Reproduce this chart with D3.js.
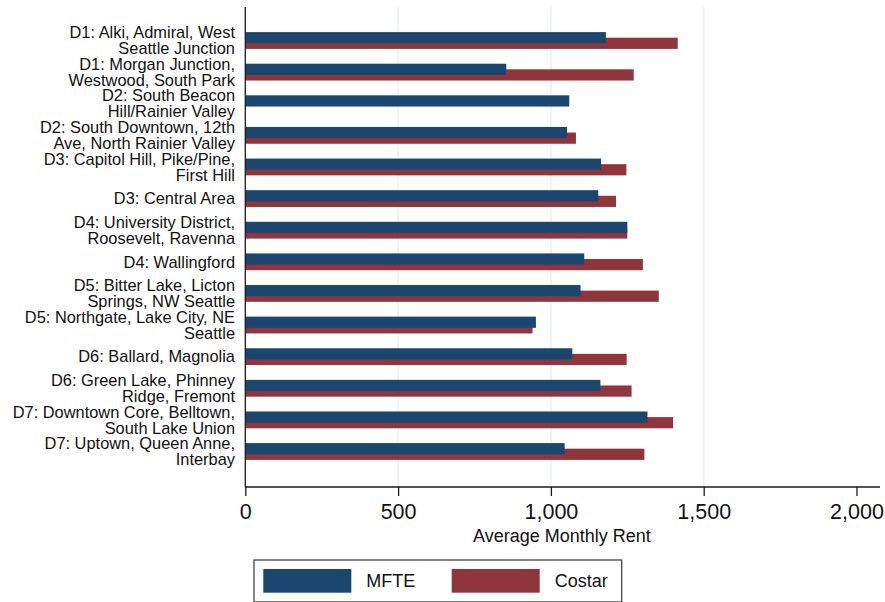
<!DOCTYPE html>
<html>
<head>
<meta charset="utf-8">
<script src="https://cdn.jsdelivr.net/npm/d3@7"></script>
<style>
  html, body { margin: 0; padding: 0; background: #fff; }
  svg { display: block; font-family: "Liberation Sans", Arial, sans-serif; }
</style>
</head>
<body>
<svg id="chart" width="885" height="602"></svg>
<script>
// ---- data ----
const categories = [
  ["D1: Alki, Admiral, West", "Seattle Junction"],
  ["D1: Morgan Junction,", "Westwood, South Park"],
  ["D2: South Beacon", "Hill/Rainier Valley"],
  ["D2: South Downtown, 12th", "Ave, North Rainier Valley"],
  ["D3: Capitol Hill, Pike/Pine,", "First Hill"],
  ["D3: Central Area"],
  ["D4: University District,", "Roosevelt, Ravenna"],
  ["D4: Wallingford"],
  ["D5: Bitter Lake, Licton", "Springs, NW Seattle"],
  ["D5: Northgate, Lake City, NE", "Seattle"],
  ["D6: Ballard, Magnolia"],
  ["D6: Green Lake, Phinney", "Ridge, Fremont"],
  ["D7: Downtown Core, Belltown,", "South Lake Union"],
  ["D7: Uptown, Queen Anne,", "Interbay"]
];
const mfte   = [1180, 854, 1060, 1053, 1164, 1155, 1250, 1109, 1097, 951, 1070, 1162, 1316, 1045];
const costar = [1415, 1271, null, 1082, 1247, 1213, 1250, 1301, 1353, 940, 1248, 1264, 1400, 1306];
const seriesNames = ["MFTE", "Costar"];
const xTicks = [0, 500, 1000, 1500, 2000];
const xTitle = "Average Monthly Rent";

// ---- layout ----
const colors = { MFTE: "#1a476f", Costar: "#90353b" };
const svg = d3.select("#chart");
const plot = { left: 245.3, right: 880, top: 7, bottom: 487 };

const keys = categories.map(c => c.join(" "));
const x = d3.scaleLinear().domain([0, 2000]).range([plot.left, 856.5]);
const y = d3.scalePoint().domain(keys).range([40.5, 451.5]);

const barH = 11.2;
const offset = 5.6;

// gridlines
svg.append("g")
  .selectAll("line")
  .data(xTicks.filter(t => t > 0 && t < 2000))
  .join("line")
  .attr("x1", d => x(d)).attr("x2", d => x(d))
  .attr("y1", plot.top).attr("y2", plot.bottom)
  .attr("stroke", "#eaf2f3").attr("stroke-width", 1.6);

// bars: Costar behind, MFTE in front
const rows = keys.map((k, i) => ({ k, m: mfte[i], c: costar[i] }));

svg.append("g").selectAll("rect")
  .data(rows.filter(d => d.c != null))
  .join("rect")
  .attr("x", x(0))
  .attr("y", d => y(d.k) - barH / 2 + offset / 2)
  .attr("width", d => x(d.c) - x(0))
  .attr("height", barH)
  .attr("fill", colors.Costar);

svg.append("g").selectAll("rect")
  .data(rows.filter(d => d.m != null))
  .join("rect")
  .attr("x", x(0))
  .attr("y", d => y(d.k) - barH / 2 - offset / 2)
  .attr("width", d => x(d.m) - x(0))
  .attr("height", barH)
  .attr("fill", colors.MFTE);

// left axis line
svg.append("line")
  .attr("x1", plot.left).attr("x2", plot.left)
  .attr("y1", plot.top).attr("y2", plot.bottom)
  .attr("stroke", "#1a1a1a").attr("stroke-width", 1.3);

// category labels
const lab = svg.append("g")
  .attr("font-size", "16.4px")
  .attr("fill", "#111")
  .attr("text-anchor", "end");
categories.forEach((lines, i) => {
  const cy = y(keys[i]);
  const n = lines.length;
  const t = lab.append("text").attr("x", 235);
  lines.forEach((ln, j) => {
    t.append("tspan")
      .attr("x", 235)
      .attr("y", cy + (j - (n - 1) / 2) * 16)
      .attr("dy", "0.35em")
      .text(ln);
  });
});

// bottom axis
const xAxis = d3.axisBottom(x)
  .tickValues(xTicks)
  .tickSize(9)
  .tickPadding(8)
  .tickFormat(d3.format(","));
const gx = svg.append("g")
  .attr("transform", `translate(0,${plot.bottom})`)
  .call(xAxis);
gx.select(".domain").attr("d", `M${plot.left},0H${plot.right}`)
  .attr("stroke", "#1a1a1a").attr("stroke-width", 1.3);
gx.selectAll(".tick line").attr("stroke", "#1a1a1a").attr("stroke-width", 1.3);
gx.selectAll(".tick text")
  .attr("font-size", "21.5px")
  .attr("font-family", "Liberation Sans, Arial, sans-serif")
  .attr("fill", "#111");

svg.append("text")
  .attr("x", (x(0) + x(2000)) / 2 + 11)
  .attr("y", 542)
  .attr("text-anchor", "middle")
  .attr("font-size", "18px")
  .attr("fill", "#111")
  .text(xTitle);

// legend
const lg = svg.append("g");
lg.append("rect")
  .attr("x", 254).attr("y", 560)
  .attr("width", 367.7).attr("height", 42)
  .attr("fill", "#fff").attr("stroke", "#333").attr("stroke-width", 1.2);
const legendX = [263.3, 451.7];
seriesNames.forEach((s, i) => {
  lg.append("rect")
    .attr("x", legendX[i]).attr("y", 569)
    .attr("width", 88).attr("height", 23.7)
    .attr("fill", colors[s]);
  lg.append("text")
    .attr("x", legendX[i] + 103)
    .attr("y", 581)
    .attr("dy", "0.35em")
    .attr("font-size", "18px")
    .attr("fill", "#111")
    .text(s);
});
</script>
</body>
</html>
